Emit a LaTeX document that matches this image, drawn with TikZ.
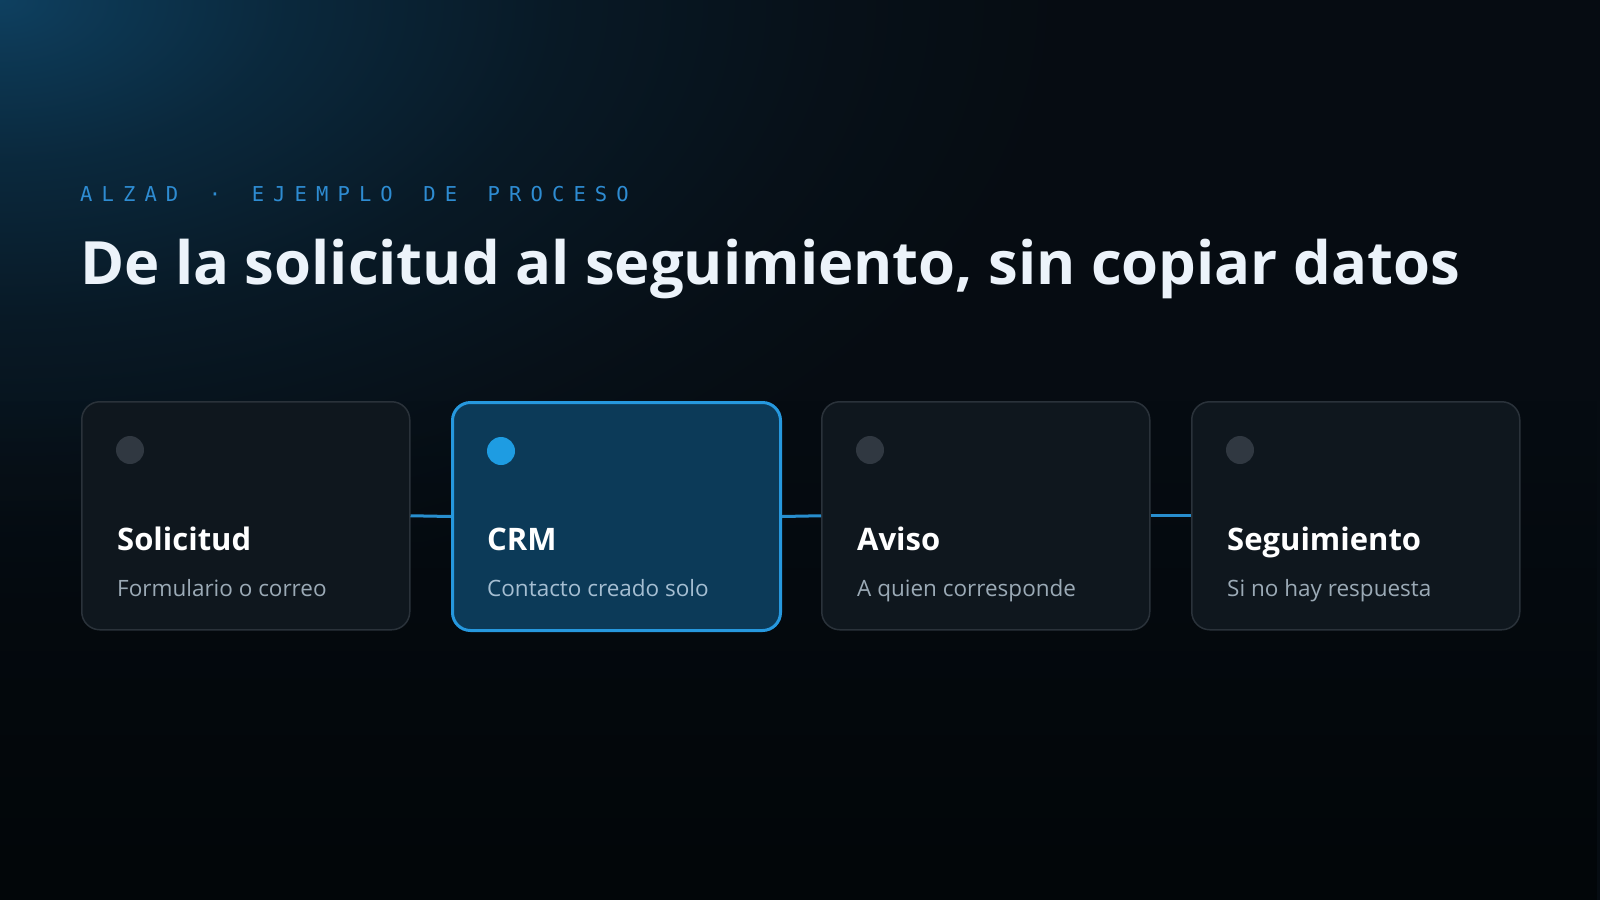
\documentclass[tikz,border=0pt]{standalone}
\usepackage{fontspec}
\usepackage{graphicx}
\setmainfont{Open Sans}
\newfontfamily\monofont{DejaVu Sans Mono}
\usetikzlibrary{fadings}
\definecolor{bgtop}{RGB}{6,12,18}
\definecolor{bgbot}{RGB}{2,6,9}
\definecolor{glow}{RGB}{14,64,96}
\colorlet{gA}{glow!85!bgtop}
\colorlet{gB}{glow!55!bgtop}
\colorlet{gC}{glow!25!bgtop}
\colorlet{gD}{glow!8!bgtop}
\definecolor{labelblue}{RGB}{46,140,210}
\definecolor{titlewhite}{RGB}{236,243,250}
\definecolor{cardfill}{RGB}{15,23,30}
\definecolor{cardline}{RGB}{42,50,58}
\definecolor{dotgray}{RGB}{48,56,65}
\definecolor{crmfill}{RGB}{12,58,88}
\definecolor{crmline}{RGB}{38,152,222}
\definecolor{crmdot}{RGB}{30,156,226}
\definecolor{linkblue}{RGB}{40,142,206}
\definecolor{subgray}{RGB}{155,170,182}
\definecolor{crmsub}{RGB}{165,190,210}
\pgfdeclareradialshading{glowshade}{\pgfpoint{0bp}{0bp}}{%
  color(0bp)=(glow); color(1.5bp)=(gA); color(5bp)=(gB);
  color(10bp)=(gC); color(15bp)=(gD); color(19bp)=(bgtop); color(50bp)=(bgtop)}
\tikzfading[name=fadeup, top color=transparent!100, bottom color=transparent!0]
\def\trk#1{\ifx#1\relax\else\makebox[21.45pt][l]{#1}\expandafter\trk\fi}
\tikzset{
  cardbox/.style={draw=cardline, line width=1.5pt, fill=cardfill, rounded corners=18pt,
    minimum width=328pt, minimum height=228pt, anchor=north west, inner sep=0pt},
  crmbox/.style={cardbox, draw=crmline, line width=3pt, fill=crmfill},
  stepdot/.style={circle, fill=dotgray, minimum size=28pt, inner sep=0pt},
  crmstepdot/.style={stepdot, fill=crmdot},
  cardtitle/.style={anchor=base west, inner sep=0pt, text=white, font=\fontsize{31}{36}\selectfont\bfseries},
  cardsub/.style={anchor=base west, inner sep=0pt, text=subgray, font=\fontsize{22.5}{26}\selectfont},
  link/.style={draw=linkblue, line width=3pt}
}
\begin{document}
\begin{tikzpicture}[x=1pt,y=-1pt]
\useasboundingbox (0,0) rectangle (1600,900);
\fill[bgtop] (0,0) rectangle (1600,900);
\begin{scope}
\clip (0,0) rectangle (1600,900);
\shade[shading=glowshade] (-1400,-800) rectangle (1400,800);
\end{scope}
\fill[bgbot, path fading=fadeup] (0,400) rectangle (1600,900);
% header
\node[anchor=base west, inner sep=0pt, text=labelblue, font=\monofont\fontsize{20.5}{24}\selectfont] (label) at (80,201) {\trk ALZAD~·~EJEMPLO~DE~PROCESO\relax};
\node[anchor=base west, inner sep=0pt, text=titlewhite] (title) at (80,284) {\resizebox{1380pt}{!}{\fontsize{64}{70}\selectfont\bfseries De la solicitud al seguimiento, sin copiar datos}};
% cards
\node[cardbox] (c1) at (81,401) {};
\node[crmbox] (c2) at (451,401) {};
\node[cardbox] (c3) at (821,401) {};
\node[cardbox] (c4) at (1191,401) {};
% links
\draw[link] (c1.east) -- (c2.west);
\draw[link] (c2.east) -- (c3.west);
\draw[link] (c3.east) -- (c4.west);
% dots
\node[stepdot] (d1) at ([shift={(49,49)}]c1.north west) {};
\node[crmstepdot] (d2) at ([shift={(50,50)}]c2.north west) {};
\node[stepdot] (d3) at ([shift={(49,49)}]c3.north west) {};
\node[stepdot] (d4) at ([shift={(49,49)}]c4.north west) {};
% texts
\node[cardtitle] (t1) at ([shift={(36,149)}]c1.north west) {Solicitud};
\node[cardsub] (s1) at ([shift={(36,195)}]c1.north west) {Formulario o correo};
\node[cardtitle] (t2) at ([shift={(36,149)}]c2.north west) {CRM};
\node[cardsub, text=crmsub] (s2) at ([shift={(36,195)}]c2.north west) {Contacto creado solo};
\node[cardtitle] (t3) at ([shift={(36,149)}]c3.north west) {Aviso};
\node[cardsub] (s3) at ([shift={(36,195)}]c3.north west) {A quien corresponde};
\node[cardtitle] (t4) at ([shift={(36,149)}]c4.north west) {Seguimiento};
\node[cardsub] (s4) at ([shift={(36,195)}]c4.north west) {Si no hay respuesta};
\end{tikzpicture}
\end{document}
